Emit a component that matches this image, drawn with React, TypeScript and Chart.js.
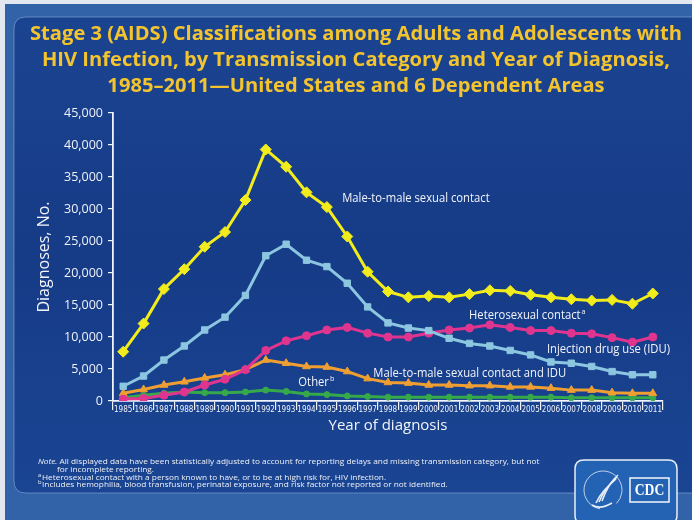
import React, { useEffect, useRef } from "react";
import { Chart, registerables } from "chart.js";

Chart.register(...registerables);

const years = [
  "1985", "1986", "1987", "1988", "1989", "1990", "1991", "1992", "1993",
  "1994", "1995", "1996", "1997", "1998", "1999", "2000", "2001", "2002",
  "2003", "2004", "2005", "2006", "2007", "2008", "2009", "2010", "2011",
];

const maleToMale = [
  7700, 12100, 17500, 20600, 24100, 26400, 31400, 39300, 36600, 32600, 30300,
  25700, 20200, 17100, 16200, 16400, 16200, 16700, 17300, 17200, 16600, 16200,
  15900, 15700, 15800, 15200, 16800,
];
const injectionDrugUse = [
  2300, 3900, 6400, 8600, 11100, 13100, 16500, 22700, 24500, 22000, 21000,
  18400, 14700, 12200, 11400, 11000, 9800, 9000, 8600, 7900, 7200, 6100, 5900,
  5400, 4600, 4100, 4100,
];
const heterosexual = [
  300, 400, 900, 1400, 2500, 3400, 4900, 7900, 9400, 10200, 11100, 11500,
  10600, 10000, 10000, 10600, 11100, 11400, 11900, 11500, 11000, 11000, 10600,
  10500, 9900, 9200, 10000,
];
const maleToMaleAndIdu = [
  1200, 1800, 2500, 3000, 3600, 4100, 4900, 6400, 5900, 5400, 5300, 4600, 3500,
  2900, 2800, 2500, 2500, 2400, 2400, 2200, 2200, 2000, 1700, 1700, 1300, 1200,
  1200,
];
const other = [
  500, 900, 1200, 1400, 1300, 1300, 1400, 1700, 1500, 1100, 1000, 800, 700,
  600, 600, 600, 600, 600, 600, 600, 600, 600, 500, 500, 500, 500, 500,
];

const yTicks = [0, 5000, 10000, 15000, 20000, 25000, 30000, 35000, 40000, 45000];

const titleLines = [
  "Stage 3 (AIDS) Classifications among Adults and Adolescents with",
  "HIV Infection, by Transmission Category and Year of Diagnosis,",
  "1985\u20132011\u2014United States and 6 Dependent Areas",
];

// series labels: text, superscript, anchor (category index, value)
const seriesLabels = ["Male-to-male sexual contact", "Heterosexual contact", "Injection drug use (IDU)", "Male-to-male sexual contact and IDU", "Other"];
const seriesLabelSup = ["", "a", "", "", "b"];
const seriesLabelIdx = [10.75, 16.98, 20.8, 12.28, 8.6];
const seriesLabelVal = [31700, 13300, 8000, 4300, 2900];

const noteLines = [
  "All displayed data have been statistically adjusted to account for reporting delays and missing transmission category, but not",
  "for incomplete reporting.",
  "Heterosexual contact with a person known to have, or to be at high risk for, HIV infection.",
  "Includes hemophilia, blood transfusion, perinatal exposure, and risk factor not reported or not identified.",
];

const SANS = '"Open Sans", "Noto Sans", sans-serif';

function drawText(
  ctx: CanvasRenderingContext2D,
  str: string,
  x: number,
  y: number,
  font: string,
  color: string,
  align: CanvasTextAlign = "left",
  sx = 1
): number {
  ctx.save();
  ctx.font = font;
  ctx.fillStyle = color;
  ctx.textAlign = align;
  ctx.textBaseline = "middle";
  ctx.translate(x, y);
  ctx.scale(sx, 1);
  ctx.fillText(str, 0, 0);
  const w = ctx.measureText(str).width * sx;
  ctx.restore();
  return w;
}

function roundRect(ctx: CanvasRenderingContext2D, x: number, y: number, w: number, h: number, r: number) {
  ctx.beginPath();
  ctx.moveTo(x + r, y);
  ctx.lineTo(x + w - r, y);
  ctx.quadraticCurveTo(x + w, y, x + w, y + r);
  ctx.lineTo(x + w, y + h - r);
  ctx.quadraticCurveTo(x + w, y + h, x + w - r, y + h);
  ctx.lineTo(x + r, y + h);
  ctx.quadraticCurveTo(x, y + h, x, y + h - r);
  ctx.lineTo(x, y + r);
  ctx.quadraticCurveTo(x, y, x + r, y);
  ctx.closePath();
}

const backgroundPlugin = {
  id: "slideBackground",
  beforeDraw(chart: any) {
    const ctx: CanvasRenderingContext2D = chart.ctx;
    const W = chart.width;
    const H = chart.height;
    ctx.save();
    ctx.fillStyle = "#3263a9";
    ctx.fillRect(0, 0, W, H);
    ctx.fillStyle = "#e3e8f0";
    ctx.fillRect(0, 0, W, 4);
    ctx.fillRect(0, 0, 5, H);
    const g = ctx.createLinearGradient(0, 17, 0, 493);
    g.addColorStop(0, "#1b4490");
    g.addColorStop(0.5, "#163b87");
    g.addColorStop(1, "#1a4592");
    roundRect(ctx, 14, 17, W + 20, 476, 12);
    ctx.fillStyle = g;
    ctx.fill();
    ctx.strokeStyle = "rgba(150,180,225,0.55)";
    ctx.lineWidth = 1;
    ctx.stroke();
    ctx.restore();

    // title
    ctx.save();
    const tFont = `bold 19px ${SANS}`;
    ctx.font = tFont;
    const sx = 652 / ctx.measureText(titleLines[0]).width;
    const ys = [35, 61, 87];
    titleLines.forEach((l, i) => drawText(ctx, l, 356, ys[i], tFont, "#f3c42e", "center", sx));
    ctx.restore();
  },
};

const annotationPlugin = {
  id: "slideAnnotations",
  afterDatasetsDraw(chart: any) {
    const ctx: CanvasRenderingContext2D = chart.ctx;
    const xs = chart.scales.x;
    const ys = chart.scales.y;
    const font = `12.5px ${SANS}`;
    const sx = 0.9;
    seriesLabels.forEach((t, i) => {
      const x = xs.getPixelForValue(seriesLabelIdx[i]);
      const y = ys.getPixelForValue(seriesLabelVal[i]);
      const w = drawText(ctx, t, x, y, font, "#f2f4fa", "left", sx);
      if (seriesLabelSup[i]) {
        drawText(ctx, seriesLabelSup[i], x + w + 1, y - 4, `8px ${SANS}`, "#f2f4fa", "left", sx);
      }
    });

    // footnotes
    const nf = `7.8px ${SANS}`;
    ctx.save();
    ctx.font = nf;
    const nsx = 480 / ctx.measureText(noteLines[0]).width;
    ctx.restore();
    const col = "#eef1f8";
    const w0 = drawText(ctx, "Note.", 38, 461.7, `italic ${nf}`, col, "left", nsx);
    drawText(ctx, noteLines[0], 38 + w0 + 2, 461.7, nf, col, "left", nsx);
    drawText(ctx, noteLines[1], 57, 469.3, nf, col, "left", nsx);
    drawText(ctx, "a", 38, 475.3, `5.5px ${SANS}`, col, "left", nsx);
    drawText(ctx, noteLines[2], 42, 477.3, nf, col, "left", nsx);
    drawText(ctx, "b", 38, 482.5, `5.5px ${SANS}`, col, "left", nsx);
    drawText(ctx, noteLines[3], 42, 484.5, nf, col, "left", nsx);

    // CDC / HHS logo
    ctx.save();
    roundRect(ctx, 575, 460, 102, 64, 9);
    ctx.fillStyle = "#2462b3";
    ctx.fill();
    ctx.strokeStyle = "#e8eef8";
    ctx.lineWidth = 1.5;
    ctx.stroke();
    ctx.beginPath();
    ctx.arc(603, 490, 19, Math.PI * 0.55, Math.PI * 2.25);
    ctx.lineWidth = 0.8;
    ctx.stroke();
    ctx.lineWidth = 1.6;
    for (let k = 0; k < 3; k++) {
      ctx.beginPath();
      ctx.moveTo(596 + k * 3, 503 - k);
      ctx.bezierCurveTo(600 + k * 3, 494 - k * 2, 606 + k * 2, 488 - k * 3, 616 + k, 479 - k * 2);
      ctx.stroke();
    }
    ctx.beginPath();
    ctx.moveTo(592, 505);
    ctx.quadraticCurveTo(600, 510, 612, 503);
    ctx.stroke();
    ctx.strokeRect(630, 478, 39, 24);
    ctx.restore();
    drawText(ctx, "CDC", 649.5, 490.5, `bold 16px "Liberation Serif", "DejaVu Serif", serif`, "#ffffff", "center", 0.85);
  },
};

export default function App() {
  const ref = useRef<HTMLCanvasElement | null>(null);

  useEffect(() => {
    document.body.style.margin = "0";
    const canvas = ref.current;
    if (!canvas) return;

    const mk = (label: string, data: number[], color: string, style: any, radius: number, order: number) => ({
      label,
      data,
      borderColor: color,
      backgroundColor: color,
      pointBackgroundColor: color,
      pointBorderColor: color,
      borderWidth: 3,
      pointStyle: style,
      pointRadius: radius,
      pointBorderWidth: 1,
      tension: 0,
      order,
    });

    const chart = new Chart(canvas, {
      type: "line",
      data: {
        labels: years,
        datasets: [
          mk("Male-to-male sexual contact", maleToMale, "#f2ec1c", "rectRot", 5.5, 1),
          mk("Injection drug use (IDU)", injectionDrugUse, "#8cc6e0", "rect", 4.5, 2),
          mk("Heterosexual contact", heterosexual, "#e0358f", "circle", 4, 3),
          mk("Male-to-male sexual contact and IDU", maleToMaleAndIdu, "#ef9f32", "triangle", 4.5, 4),
          mk("Other", other, "#36a94a", "circle", 3, 5),
        ],
      },
      options: {
        responsive: false,
        animation: false,
        layout: { padding: { left: 0, right: 29, top: 113, bottom: 79 } },
        plugins: {
          legend: { display: false },
          title: { display: false },
          tooltip: { enabled: false },
        },
        scales: {
          x: {
            type: "category",
            offset: true,
            afterFit: (s: any) => {
              s.height = 40;
            },
            grid: {
              offset: true,
              drawOnChartArea: false,
              drawTicks: true,
              tickLength: 9,
              color: "#f0f3fa",
              lineWidth: 1.2,
            },
            border: { display: true, color: "#f0f3fa", width: 1.8 },
            ticks: {
              color: "#f0f3fa",
              padding: -5,
              maxRotation: 0,
              autoSkip: false,
              font: { family: '"Liberation Sans Narrow", "DejaVu Sans Condensed", sans-serif', size: 8 },
            },
            title: {
              display: true,
              text: "Year of diagnosis",
              color: "#f2f4fa",
              font: { family: SANS, size: 15 },
              padding: { top: 0, bottom: 6 },
            },
          },
          y: {
            min: 0,
            max: 45000,
            afterFit: (s: any) => {
              s.width = 113;
            },
            afterBuildTicks: (s: any) => {
              s.ticks = yTicks.map((v) => ({ value: v }));
            },
            grid: {
              drawOnChartArea: false,
              drawTicks: true,
              tickLength: 5,
              color: "#f0f3fa",
              lineWidth: 1.2,
            },
            border: { display: true, color: "#f0f3fa", width: 1.8 },
            ticks: {
              color: "#f0f3fa",
              padding: 5,
              font: { family: SANS, size: 12.5 },
              callback: (v: any) => Number(v).toLocaleString("en-US"),
            },
            title: {
              display: true,
              text: "Diagnoses, No.",
              color: "#f2f4fa",
              font: { family: SANS, size: 16 },
              padding: { top: 35, bottom: 0 },
            },
          },
        },
      },
      plugins: [backgroundPlugin, annotationPlugin],
    });

    return () => chart.destroy();
  }, []);

  return (
    <div style={{ width: 692, height: 520 }}>
      <canvas ref={ref} width={692} height={520} style={{ display: "block" }} />
    </div>
  );
}
